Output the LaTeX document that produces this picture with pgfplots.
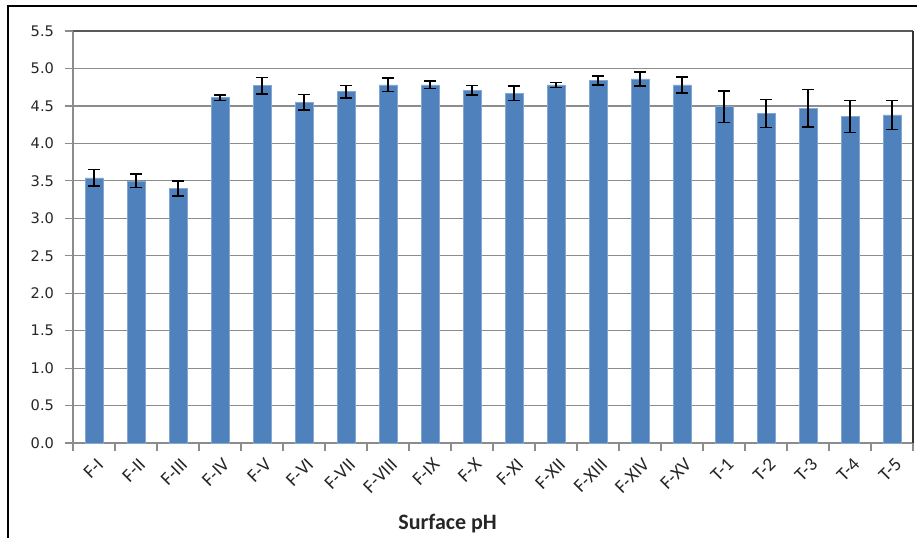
\documentclass[border=0pt]{standalone}
\usepackage{pgfplots}
\pgfplotsset{compat=1.18}
\usepackage{pgfplotstable}
\usepackage{fontspec}
\setmainfont{Carlito}
\newfontfamily\dejavu{DejaVu Sans}
\definecolor{barblue}{HTML}{4F81BD}
\definecolor{gridgray}{HTML}{8C8C8C}
\definecolor{axdark}{HTML}{595959}

\pgfplotstableread{
x y err
0 3.54 0.11
1 3.50 0.09
2 3.40 0.10
3 4.61 0.035
4 4.77 0.11
5 4.55 0.105
6 4.69 0.085
7 4.78 0.09
8 4.78 0.05
9 4.71 0.065
10 4.67 0.095
11 4.78 0.035
12 4.84 0.06
13 4.86 0.095
14 4.78 0.105
15 4.49 0.21
16 4.40 0.185
17 4.47 0.25
18 4.36 0.215
19 4.38 0.195
}\phdata

\begin{document}
\begin{tikzpicture}
\useasboundingbox (0,0) rectangle (458.5pt,-268.5pt);
\draw[line width=1pt] (3.75pt,-270pt) -- (3.75pt,-2.75pt) -- (460pt,-2.75pt);
\begin{axis}[
  at={(36.5pt,-221.5pt)}, anchor=south west,
  scale only axis, width=420pt, height=206pt,
  xmin=-0.5, xmax=19.5, ymin=0, ymax=5.5,
  axis line style={draw=none},
  ybar, bar width=9pt,
  xtick={0,...,19},
  xticklabels={F-I,F-II,F-III,F-IV,F-V,F-VI,F-VII,F-VIII,F-IX,F-X,F-XI,F-XII,F-XIII,F-XIV,F-XV,T-1,T-2,T-3,T-4,T-5},
  minor xtick={-0.5,0.5,...,19.5},
  major x tick style={draw=none},
  minor x tick style={gridgray, line width=0.6pt},
  minor tick length=4pt,
  major tick length=4pt,
  tick align=outside,
  xtick pos=bottom, ytick pos=left,
  ytick={0,0.5,1,1.5,2,2.5,3,3.5,4,4.5,5,5.5},
  y tick style={gridgray, line width=0.6pt},
  yticklabel style={font=\dejavu\fontsize{7.3}{8}\selectfont, text=black!85, /pgf/number format/fixed, /pgf/number format/fixed zerofill, /pgf/number format/precision=1, xshift=-2pt},
  /pgf/number format/assume math mode=true,
  xticklabel style={font=\fontsize{9.5}{10}\selectfont, text=black!85, rotate=45, anchor=east, yshift=-6pt, xshift=2pt},
  ymajorgrids, grid style={gridgray, line width=0.6pt},
  xlabel={Surface pH},
  xlabel style={font=\bfseries\fontsize{11}{12}\selectfont, text=black!85, at={(axis description cs:0.446,-0.196)}, anchor=center},
  clip=false,
]
\draw[gridgray, line width=0.6pt] (rel axis cs:0,1) -- (rel axis cs:0,0) -- (rel axis cs:1,0);
\draw[axdark, line width=1pt] (rel axis cs:0,1) -- (rel axis cs:1,1);
\draw[black!80, line width=0.8pt] (rel axis cs:1,1) -- (rel axis cs:1,0);
\addplot[fill=barblue, draw=barblue!70!white, line width=0.3pt,
  error bars/.cd, y dir=both, y explicit,
  error bar style={black, line width=0.75pt},
  error mark options={rotate=90, mark size=3pt, line width=0.75pt, black}]
  table[x=x, y=y, y error=err] {\phdata};
\end{axis}
\end{tikzpicture}
\end{document}
